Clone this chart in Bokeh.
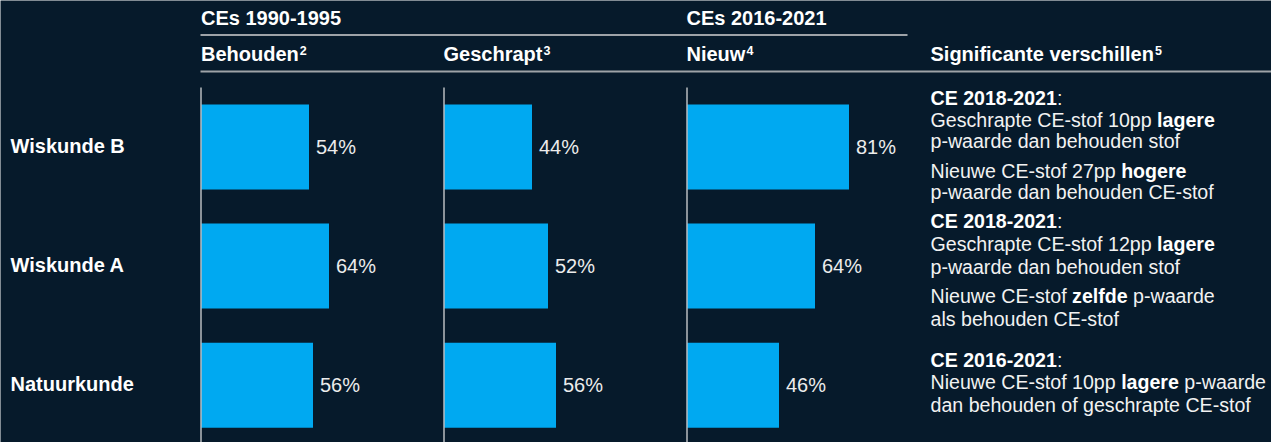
from bokeh.plotting import figure
from bokeh.models import Range1d, ColumnDataSource
from bokeh.core.properties import value
from bokeh.embed import file_html
from bokeh.resources import INLINE

# ---------------- data ----------------
subjects = ["Wiskunde B", "Wiskunde A", "Natuurkunde"]
behouden = [54, 64, 56]
geschrapt = [44, 52, 56]
nieuw = [81, 64, 46]

group_titles = ["CEs 1990-1995", "CEs 2016-2021"]
column_titles = ["Behouden", "Geschrapt", "Nieuw", "Significante verschillen"]
column_notes = ["2", "3", "4", "5"]

# note lines: list of (segment text, bold?)
notes = [
    [("CE 2018-2021", True), (":", False)],
    [("Geschrapte CE-stof 10pp ", False), ("lagere", True)],
    [("p-waarde dan behouden stof", False)],
    [("Nieuwe CE-stof 27pp ", False), ("hogere", True)],
    [("p-waarde dan behouden CE-stof", False)],
    [("CE 2018-2021", True), (":", False)],
    [("Geschrapte CE-stof 12pp ", False), ("lagere", True)],
    [("p-waarde dan behouden stof", False)],
    [("Nieuwe CE-stof ", False), ("zelfde", True), (" p-waarde", False)],
    [("als behouden CE-stof", False)],
    [("CE 2016-2021", True), (":", False)],
    [("Nieuwe CE-stof 10pp ", False), ("lagere", True), (" p-waarde", False)],
    [("dan behouden of geschrapte CE-stof", False)],
]

# ---------------- layout / style ----------------
BG = "#061a2b"
BAR = "#00a9f1"
RULE = "#9ea3a8"
AXIS = "#b8bcc0"
WHITE = "#ffffff"
FONT = "Liberation Sans"

W, H = 1271, 442
ROW0, ROWSTEP = 146.5, 119.1     # pixel centre of first row, row spacing
PXU = 2.0                        # pixels per percent unit
TSHIFT = -7.5                    # text baseline correction (px)

def px(x):            # reference pixel x -> data x
    return x / PXU

def py(y):            # reference pixel y -> data y (row units)
    return (y - ROW0) / ROWSTEP

def ty(y):            # text baseline pixel y -> data y
    return py(y + TSHIFT)

panel_x = [px(200.5), px(443.5), px(686.5)]
note_baselines = [105, 127, 148, 178, 199, 228, 251, 274, 303, 326, 367, 389, 412]

REG = {' ': 278, '%': 889, '-': 333, ':': 278, 'A': 667, 'B': 667, 'C': 722, 'D': 722,
       'E': 667, 'G': 778, 'N': 722, 'S': 667, 'W': 944, 'a': 556, 'b': 556, 'c': 500,
       'd': 556, 'e': 556, 'f': 278, 'g': 556, 'h': 556, 'i': 222, 'j': 222, 'k': 500,
       'l': 222, 'm': 833, 'n': 556, 'o': 556, 'p': 556, 'q': 556, 'r': 333, 's': 500,
       't': 278, 'u': 556, 'v': 500, 'w': 722, 'x': 500, 'y': 500, 'z': 500}
BOLD = {' ': 278, '-': 333, ':': 333, 'B': 722, 'C': 722, 'E': 667, 'G': 778, 'N': 722,
        'S': 667, 'W': 944, 'a': 556, 'b': 611, 'c': 556, 'd': 611, 'e': 556, 'f': 333,
        'g': 611, 'h': 611, 'i': 278, 'k': 556, 'l': 278, 'n': 611, 'o': 611, 'p': 611,
        'r': 389, 's': 556, 't': 333, 'u': 611, 'v': 556, 'w': 778, 'z': 500}

def tw(s, bold, size):
    t = BOLD if bold else REG
    return sum(t.get(c, 556) for c in s) * size / 1000.0

p = figure(width=W, height=H, output_backend="svg", toolbar_location=None,
           x_range=Range1d(px(0), px(W)),
           y_range=Range1d(py(H), py(0)),
           min_border=0, background_fill_color=BG, border_fill_color=BG,
           outline_line_color=None)
p.axis.visible = False
p.grid.visible = False

rows = list(range(len(subjects)))
BAR_H = 85 / ROWSTEP

# bars + value labels
for start, vals in zip(panel_x, [behouden, geschrapt, nieuw]):
    src = ColumnDataSource(dict(y=rows, left=[start] * len(vals),
                                right=[start + v for v in vals],
                                lx=[start + v + 3.5 for v in vals],
                                ly=[r + (7.5 + TSHIFT) / ROWSTEP for r in rows],
                                lab=[f"{v}%" for v in vals]))
    p.hbar(y="y", left="left", right="right", height=BAR_H, source=src,
           fill_color=BAR, line_color=None)
    p.text(x="lx", y="ly", text="lab", source=src, text_font=value(FONT),
           text_font_size="20px", text_color="#ececec", text_baseline="alphabetic",
           text_align="left")

# vertical axis lines
p.segment(x0=panel_x, x1=panel_x, y0=[py(87)] * 3, y1=[py(450)] * 3,
          line_color=AXIS, line_width=1.5)

# header rules
p.segment(x0=[px(200), px(200)], x1=[px(907), px(1280)],
          y0=[py(34.5), py(71)], y1=[py(34.5), py(71)],
          line_color=RULE, line_width=2)

# row labels
p.text(x=[px(10)] * 3, y=[r + (6.2 + TSHIFT) / ROWSTEP for r in rows], text=subjects,
       text_font=value(FONT), text_font_size="20px", text_font_style="bold",
       text_color=WHITE, text_baseline="alphabetic", text_align="left")

# group titles
p.text(x=[px(200.5), px(686)], y=[ty(24.5)] * 2, text=group_titles,
       text_font=value(FONT), text_font_size="20px", text_font_style="bold",
       text_color=WHITE, text_baseline="alphabetic", text_align="left")

# column titles with superscripts
col_x = [200.5, 443, 686, 930]
p.text(x=[px(x) for x in col_x], y=[ty(60.5)] * 4, text=column_titles,
       text_font=value(FONT), text_font_size="20px", text_font_style="bold",
       text_color=WHITE, text_baseline="alphabetic", text_align="left")
sup_x = [px(x + tw(t, True, 20) + 1) for x, t in zip(col_x, column_titles)]
p.text(x=sup_x, y=[ty(57)] * 4, text=column_notes,
       text_font=value(FONT), text_font_size="12.5px", text_font_style="bold",
       text_color=WHITE, text_baseline="alphabetic", text_align="left")

# notes
NS = 19.6
reg = dict(x=[], y=[], t=[])
bld = dict(x=[], y=[], t=[])
for line, base in zip(notes, note_baselines):
    cx = 930.0
    for seg, b in line:
        lead = len(seg) - len(seg.lstrip(" "))
        cx += tw(" " * lead, b, NS)
        seg = seg.lstrip(" ")
        d = bld if b else reg
        d["x"].append(px(cx))
        d["y"].append(ty(base))
        d["t"].append(seg)
        cx += tw(seg, b, NS)
p.text(x="x", y="y", text="t", source=ColumnDataSource(reg), text_font=value(FONT),
       text_font_size=f"{NS}px", text_color="#f2f2f2", text_baseline="alphabetic",
       text_align="left")
p.text(x="x", y="y", text="t", source=ColumnDataSource(bld), text_font=value(FONT),
       text_font_size=f"{NS}px", text_font_style="bold", text_color=WHITE,
       text_baseline="alphabetic", text_align="left")

html = file_html(p, INLINE)
html = html.replace("<body>", f'<body style="background-color:{BG};">', 1)
open("out.html", "w").write(html)
